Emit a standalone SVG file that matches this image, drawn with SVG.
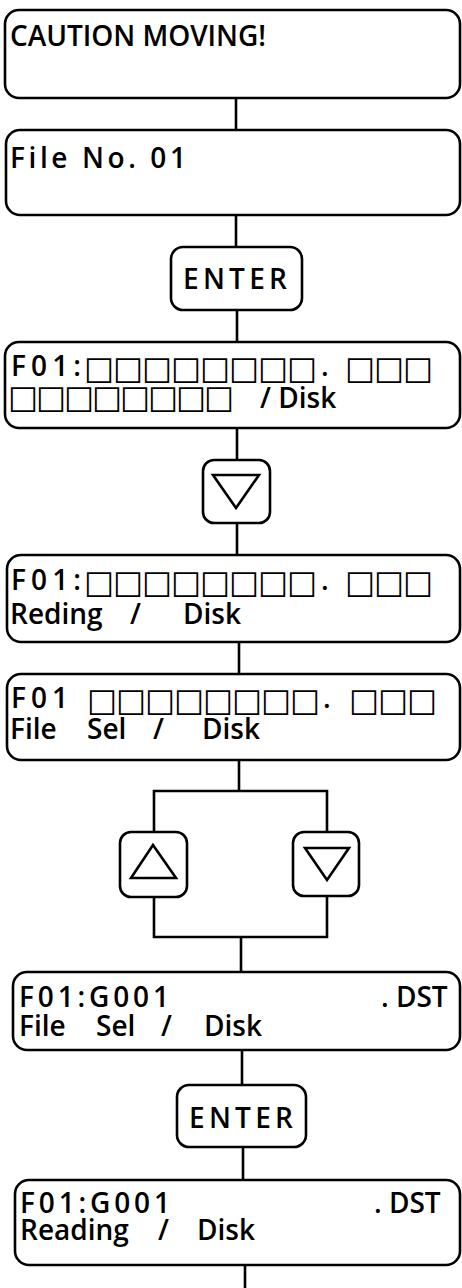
<svg xmlns="http://www.w3.org/2000/svg" width="462" height="1288" viewBox="0 0 462 1288">
<style>
.box{fill:#fff;stroke:#000;stroke-width:2.6}
.wire{fill:none;stroke:#000;stroke-width:2.6}
.t{font-family:"Open Sans","Liberation Sans",sans-serif;font-weight:600;font-size:28px;fill:#000}
.sq{font-family:"DejaVu Sans",sans-serif;font-size:32px;fill:#000}
</style>
<rect width="462" height="1288" fill="#fff"/>
<g id="connectors">
<line class="wire" x1="236" y1="98" x2="236" y2="130"/>
<line class="wire" x1="236" y1="215" x2="236" y2="247"/>
<line class="wire" x1="237" y1="310" x2="237" y2="342"/>
<line class="wire" x1="237" y1="428" x2="237" y2="460"/>
<line class="wire" x1="237" y1="523" x2="237" y2="555"/>
<line class="wire" x1="239" y1="642" x2="239" y2="674"/>
<polyline class="wire" points="239,760 239,791"/>
<polyline class="wire" points="154,832 154,791 327,791 327,832"/>
<polyline class="wire" points="154,897 154,937 327,937 327,896"/>
<line class="wire" x1="241" y1="937" x2="241" y2="972"/>
<line class="wire" x1="242" y1="1050" x2="242" y2="1085"/>
<line class="wire" x1="243" y1="1147" x2="243" y2="1180"/>
<line class="wire" x1="245" y1="1265" x2="245" y2="1288"/>
</g>
<g id="n1"><rect class="box" x="5" y="10" width="455" height="88" rx="14"/>
<text class="t" x="10" y="46" textLength="256" lengthAdjust="spacing">CAUTION MOVING!</text></g>
<g id="n2"><rect class="box" x="6" y="130" width="454" height="85" rx="14"/>
<text class="t" x="10" y="168" textLength="176" lengthAdjust="spacing">File No. 01</text></g>
<g id="n3"><rect class="box" x="171" y="247" width="131" height="63" rx="12"/>
<text class="t" x="183" y="289" textLength="104" lengthAdjust="spacing">ENTER</text></g>
<g id="n4"><rect class="box" x="5" y="342" width="455" height="86" rx="14"/>
<text class="t" x="11" y="376" textLength="70" lengthAdjust="spacing">F01:</text>
<text class="sq" x="84 113 142 171 200 229 258 287" y="379">□□□□□□□□</text>
<text class="t" x="321" y="376">.</text>
<text class="sq" x="345 374 403" y="379">□□□</text>
<text class="sq" x="8 36 64 92 120 148 176 204" y="408">□□□□□□□□</text>
<text class="t" x="260" y="408">/ Disk</text></g>
<g id="n5"><rect class="box" x="203" y="460" width="67" height="63" rx="11"/>
<polygon class="wire" points="213,475 259,475 236,508"/></g>
<g id="n6"><rect class="box" x="7" y="555" width="453" height="87" rx="14"/>
<text class="t" x="11" y="590" textLength="70" lengthAdjust="spacing">F01:</text>
<text class="sq" x="84 113 142 171 200 229 258 287" y="593">□□□□□□□□</text>
<text class="t" x="321" y="590">.</text>
<text class="sq" x="345 374 403" y="593">□□□</text>
<text class="t" y="624"><tspan x="10">Reding</tspan><tspan x="130">/</tspan><tspan x="183">Disk</tspan></text></g>
<g id="n7"><rect class="box" x="7" y="674" width="453" height="86" rx="14"/>
<text class="t" x="11" y="708" textLength="57" lengthAdjust="spacing">F01</text>
<text class="sq" x="87 116 145 174 203 232 261 290" y="711">□□□□□□□□</text>
<text class="t" x="323" y="708">.</text>
<text class="sq" x="349 378 407" y="711">□□□</text>
<text class="t" y="739"><tspan x="10">File</tspan><tspan x="87">Sel</tspan><tspan x="153">/</tspan><tspan x="202">Disk</tspan></text></g>
<g id="n8"><rect class="box" x="120" y="832" width="67" height="65" rx="11"/>
<polygon class="wire" points="153,845 131,878 176,878"/></g>
<g id="n9"><rect class="box" x="293" y="832" width="66" height="64" rx="11"/>
<polygon class="wire" points="305,848 349,848 327,880"/></g>
<g id="n10"><rect class="box" x="13" y="972" width="447" height="78" rx="14"/>
<text class="t" x="19" y="1007" textLength="150" lengthAdjust="spacing">F01:G001</text>
<text class="t" x="381" y="1007">. DST</text>
<text class="t" y="1036"><tspan x="19">File</tspan><tspan x="96">Sel</tspan><tspan x="161">/</tspan><tspan x="204">Disk</tspan></text></g>
<g id="n11"><rect class="box" x="177" y="1085" width="129" height="62" rx="12"/>
<text class="t" x="189" y="1128" textLength="104" lengthAdjust="spacing">ENTER</text></g>
<g id="n12"><rect class="box" x="15" y="1180" width="445" height="85" rx="14"/>
<text class="t" x="20" y="1213" textLength="150" lengthAdjust="spacing">F01:G001</text>
<text class="t" x="374" y="1213">. DST</text>
<text class="t" y="1240"><tspan x="20">Reading</tspan><tspan x="158">/</tspan><tspan x="197">Disk</tspan></text></g>
</svg>
